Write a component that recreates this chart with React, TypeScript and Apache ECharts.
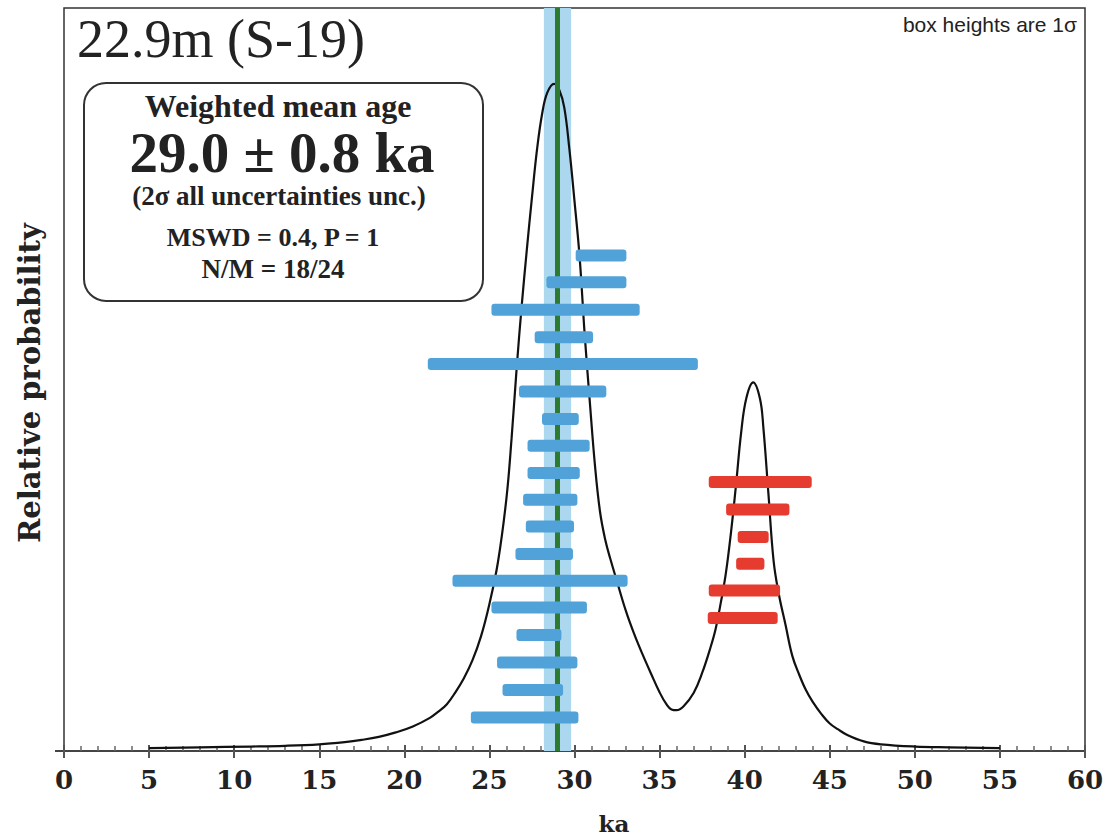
import React, { useEffect, useRef } from "react";
import * as echarts from "echarts";

// ---- data ----
const xMin = 0;
const xMax = 60;
const xStep = 5;

const meanAge = 29.0;
const meanErr = 0.8;

// probability curve (ka, relative probability)
const curveX = [5, 8, 11, 13, 15, 16.5, 17.5, 18.5, 19.5, 20.5, 21.5, 22.0, 22.5, 23.0, 23.5, 24.0, 24.5, 25.0, 25.5, 26.0, 26.3, 26.6, 26.9, 27.2, 27.5, 27.8, 28.1, 28.4, 28.8, 29.1, 29.4, 29.7, 30.0, 30.3, 30.6, 30.9, 31.2, 31.5, 31.8, 32.1, 32.5, 33.0, 33.5, 34.0, 34.5, 35.0, 35.4, 35.7, 36.0, 36.4, 37.0, 37.5, 38.0, 38.3, 38.6, 38.9, 39.2, 39.5, 39.8, 40.1, 40.5, 40.9, 41.1, 41.4, 41.7, 42.0, 42.4, 42.8, 43.2, 43.6, 44.0, 44.5, 45.0, 45.5, 46.0, 47.0, 48.0, 50.0, 52.0, 55.0];
const curveY = [0.004, 0.005, 0.006, 0.007, 0.009, 0.012, 0.015, 0.019, 0.025, 0.033, 0.0446, 0.053, 0.063, 0.079, 0.098, 0.122, 0.154, 0.198, 0.254, 0.34, 0.42, 0.515, 0.6, 0.675, 0.745, 0.81, 0.858, 0.886, 0.898, 0.89, 0.866, 0.81, 0.74, 0.665, 0.56, 0.47, 0.385, 0.322, 0.285, 0.259, 0.228, 0.19, 0.158, 0.13, 0.104, 0.079, 0.063, 0.056, 0.055, 0.06, 0.078, 0.105, 0.14, 0.165, 0.2, 0.24, 0.295, 0.36, 0.43, 0.475, 0.496, 0.474, 0.435, 0.345, 0.256, 0.212, 0.17, 0.128, 0.103, 0.082, 0.066, 0.05, 0.037, 0.029, 0.022, 0.013, 0.009, 0.006, 0.005, 0.004];

// accepted analyses (blue): age - 1σ, age + 1σ, plotting level
const blueLo = [30.07, 28.35, 25.12, 27.66, 21.38, 26.74, 28.09, 27.24, 27.24, 26.98, 27.14, 26.53, 22.83, 25.12, 26.59, 25.45, 25.77, 23.91];
const blueHi = [33.05, 33.05, 33.83, 31.09, 37.25, 31.87, 30.25, 30.89, 30.31, 30.17, 29.97, 29.91, 33.12, 30.73, 29.23, 30.17, 29.33, 30.23];
const blueLevel = [0.667, 0.631, 0.594, 0.557, 0.521, 0.484, 0.447, 0.411, 0.374, 0.338, 0.302, 0.265, 0.229, 0.193, 0.156, 0.119, 0.082, 0.045];

// rejected analyses (red)
const redLo = [37.89, 38.91, 39.59, 39.5, 37.89, 37.83];
const redHi = [43.94, 42.63, 41.41, 41.16, 42.08, 41.94];
const redLevel = [0.362, 0.325, 0.288, 0.252, 0.216, 0.179];

const titleText = "22.9m (S-19)";
const boxLines = ["Weighted mean age", "29.0 ± 0.8 ka", "(2σ all uncertainties unc.)", "MSWD = 0.4, P = 1", "N/M = 18/24"];
const noteText = "box heights are 1σ";
const yName = "Relative probability";
const xName = "ka";

const BLUE = "#50a2d8";
const RED = "#e63b2f";
const BAND = "#acd8ef";
const GREEN = "#2c7b30";
const SERIF = "'Liberation Serif', 'Times New Roman', serif";
const DSERIF = "'DejaVu Serif', serif";

function barSeries(lo: number[], hi: number[], lvl: number[], color: string, name: string) {
  return {
    name,
    type: "custom",
    z: 5,
    data: lo.map((l, i) => [l, hi[i], lvl[i]]),
    renderItem: (params: any, api: any) => {
      const p1 = api.coord([api.value(0), api.value(2)]);
      const p2 = api.coord([api.value(1), api.value(2)]);
      const h = 12;
      return {
        type: "rect",
        shape: { x: p1[0], y: p1[1] - h / 2, width: p2[0] - p1[0], height: h, r: 3 },
        style: { fill: color },
      };
    },
  };
}

export default function App() {
  const ref = useRef<HTMLDivElement>(null);
  useEffect(() => {
    if (!ref.current) return;
    const chart = echarts.init(ref.current, undefined, { renderer: "svg" });
    const grid = { left: 64, right: 24, top: 8, bottom: 88 };
    const option: any = {
      animation: false,
      backgroundColor: "#ffffff",
      grid: { ...grid, show: true, borderColor: "#333", borderWidth: 1.5, backgroundColor: "transparent" },
      xAxis: [
        {
          type: "value",
          min: xMin,
          max: xMax,
          interval: xStep,
          axisLine: { show: true, lineStyle: { color: "#444", width: 2 } },
          axisTick: { show: true, length: 7, inside: false, lineStyle: { color: "#555", width: 2 } },
          axisLabel: { show: true, margin: 16, fontFamily: DSERIF, fontWeight: "bold", fontSize: 26, color: "#222" },
          splitLine: { show: false },
        },
        {
          type: "value",
          min: xMin,
          max: xMax,
          interval: 1,
          position: "bottom",
          axisLine: { show: false },
          axisTick: { show: true, length: 5, inside: true, lineStyle: { color: "#666", width: 1.5 } },
          axisLabel: { show: false },
          splitLine: { show: false },
        },
        {
          type: "value",
          min: xMin,
          max: xMax,
          interval: xStep,
          position: "bottom",
          axisLine: { show: false },
          axisTick: { show: true, length: 6, inside: true, lineStyle: { color: "#555", width: 2 } },
          axisLabel: { show: false },
          splitLine: { show: false },
        },
      ],
      yAxis: {
        type: "value",
        min: 0,
        max: 1,
        axisLine: { show: false },
        axisTick: { show: false },
        axisLabel: { show: false },
        splitLine: { show: false },
      },
      series: [
        {
          name: "band",
          type: "line",
          data: [],
          z: 1,
          markArea: {
            silent: true,
            itemStyle: { color: BAND, opacity: 1 },
            data: [[{ xAxis: meanAge - meanErr }, { xAxis: meanAge + meanErr }]],
          },
        },
        {
          name: "probability",
          type: "line",
          z: 3,
          data: curveX.map((x, i) => [x, curveY[i]]),
          smooth: 0.4,
          showSymbol: false,
          symbol: "none",
          lineStyle: { color: "#111", width: 2.2 },
        },
        barSeries(blueLo, blueHi, blueLevel, BLUE, "accepted"),
        barSeries(redLo, redHi, redLevel, RED, "rejected"),
        {
          name: "mean",
          type: "line",
          data: [],
          z: 10,
          markLine: {
            silent: true,
            symbol: ["none", "none"],
            label: { show: false },
            lineStyle: { color: GREEN, width: 5, type: "solid" },
            data: [{ xAxis: meanAge }],
          },
        },
      ],
      graphic: [
        {
          type: "line",
          shape: { x1: 55, y1: 751, x2: 64, y2: 751 },
          style: { stroke: "#444", lineWidth: 2 },
        },
        {
          type: "text",
          left: 77,
          top: 12,
          style: { text: titleText, font: `54px ${SERIF}`, fill: "#222" },
        },
        {
          type: "rect",
          shape: { x: 84, y: 83, width: 399, height: 218, r: 22 },
          style: { fill: "#fff", stroke: "#333", lineWidth: 2 },
          z: 20,
        },
        {
          type: "text",
          x: 278,
          y: 106,
          z: 21,
          style: { text: boxLines[0], align: "center", verticalAlign: "middle", font: `bold 32px ${SERIF}`, fill: "#222" },
        },
        {
          type: "text",
          x: 282,
          y: 152,
          z: 21,
          style: { text: boxLines[1], align: "center", verticalAlign: "middle", font: `bold 57px ${SERIF}`, fill: "#222" },
        },
        {
          type: "text",
          x: 279,
          y: 196,
          z: 21,
          style: { text: boxLines[2], align: "center", verticalAlign: "middle", font: `bold 27px ${SERIF}`, fill: "#222" },
        },
        {
          type: "text",
          x: 273,
          y: 237,
          z: 21,
          style: { text: boxLines[3], align: "center", verticalAlign: "middle", font: `bold 26px ${SERIF}`, fill: "#222" },
        },
        {
          type: "text",
          x: 273,
          y: 269,
          z: 21,
          style: { text: boxLines[4], align: "center", verticalAlign: "middle", font: `bold 27px ${SERIF}`, fill: "#222" },
        },
        {
          type: "text",
          x: 1077,
          y: 24,
          style: { text: noteText, align: "right", verticalAlign: "middle", font: `21px 'Liberation Sans', Arial, sans-serif`, fill: "#222" },
        },
        {
          type: "text",
          x: 30,
          y: 383,
          rotation: Math.PI / 2,
          style: { text: yName, align: "center", verticalAlign: "middle", font: `bold 29px ${DSERIF}`, fill: "#222" },
        },
        {
          type: "text",
          x: 614,
          y: 823,
          style: { text: xName, align: "center", verticalAlign: "middle", font: `bold 23px ${DSERIF}`, fill: "#222" },
        },
      ],
    };
    chart.setOption(option);
    return () => chart.dispose();
  }, []);
  return <div ref={ref} style={{ position: "absolute", left: 0, top: 0, width: 1109, height: 839 }} />;
}
